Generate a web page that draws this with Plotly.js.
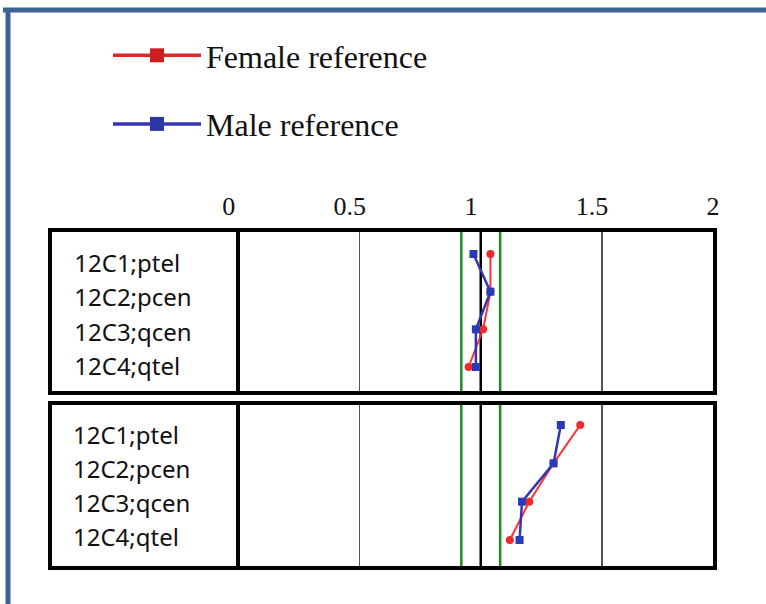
<!DOCTYPE html>
<html>
<head>
<meta charset="utf-8">
<script src="https://cdn.plot.ly/plotly-3.0.1.min.js"></script>
<style>html,body{margin:0;padding:0;background:#fff;}#chart{width:766px;height:604px;}</style>
</head>
<body>
<div id="chart"></div>
<script>
// Data
var rows = ['12C1;ptel', '12C2;pcen', '12C3;qcen', '12C4;qtel'];
var femaleTop = [1.04, 1.04, 1.01, 0.95];
var maleTop = [0.97, 1.04, 0.98, 0.98];
var femaleBottom = [1.41, 1.30, 1.20, 1.12];
var maleBottom = [1.33, 1.30, 1.17, 1.16];
var tickValues = [0, 0.5, 1, 1.5, 2];
var tickLabels = ['0', '0.5', '1', '1.5', '2'];
var referenceValue = 1;
var lowerLimit = 0.92;
var upperLimit = 1.08;

var RED_LINE = '#ff3030', RED_MARK = '#f02a2a';
var BLUE_LINE = '#3535b0', BLUE_MARK = '#2a3ab8';

var traces = [
  {name: 'Female reference', x: [null], y: [null], mode: 'lines+markers', legendgroup: 'f',
   line: {color: '#e02828', width: 3.5}, marker: {symbol: 'square', size: 14, color: '#cc2020'}, hoverinfo: 'skip'},
  {name: 'Male reference', x: [null], y: [null], mode: 'lines+markers', legendgroup: 'm',
   line: {color: '#3535b5', width: 3.5}, marker: {symbol: 'square', size: 14, color: '#2c35a8'}, hoverinfo: 'skip'},
  // top panel
  {x: femaleTop, y: rows, xaxis: 'x', yaxis: 'y', mode: 'lines+markers', showlegend: false,
   line: {color: RED_LINE, width: 2}, marker: {symbol: 'circle', size: 8, color: RED_MARK}},
  {x: maleTop, y: rows, xaxis: 'x', yaxis: 'y', mode: 'lines+markers', showlegend: false,
   line: {color: BLUE_LINE, width: 2.5}, marker: {symbol: 'square', size: 8, color: BLUE_MARK}},
  // bottom panel
  {x: femaleBottom, y: rows, xaxis: 'x2', yaxis: 'y2', mode: 'lines+markers', showlegend: false,
   line: {color: RED_LINE, width: 2}, marker: {symbol: 'circle', size: 8, color: RED_MARK}},
  {x: maleBottom, y: rows, xaxis: 'x2', yaxis: 'y2', mode: 'lines+markers', showlegend: false,
   line: {color: BLUE_LINE, width: 2.5}, marker: {symbol: 'square', size: 8, color: BLUE_MARK}},
  // row labels
  {x: rows.map(function(){return -0.638;}), y: rows, xaxis: 'x3', yaxis: 'y3', mode: 'text', text: rows,
   textposition: 'middle right', showlegend: false, hoverinfo: 'skip',
   textfont: {family: 'Noto Sans, sans-serif', size: 24, color: '#111'}},
  {x: rows.map(function(){return -0.68;}), y: rows, xaxis: 'x2', yaxis: 'y4', mode: 'text', text: rows,
   textposition: 'middle right', showlegend: false, hoverinfo: 'skip',
   textfont: {family: 'Noto Sans, sans-serif', size: 24, color: '#111'}}
];

var W = 766, H = 604;
function px(v) { return v / W; }
function py(v) { return 1 - v / H; }

var xDomain = [px(52), px(713)];
var xRange = [-0.7665, 1.957];

function panelX(anchor) {
  return {domain: xDomain, range: xRange, anchor: anchor, showline: true, mirror: true,
    linewidth: 4, linecolor: '#000', tickvals: [0.5, 1.5], showticklabels: false, ticks: '',
    showgrid: true, gridcolor: '#555', gridwidth: 1.5, zeroline: true, zerolinecolor: '#000',
    zerolinewidth: 4, fixedrange: true};
}
function panelY(domain, range, anchor) {
  return {domain: domain, range: range, anchor: anchor, type: 'category', categoryarray: rows,
    showline: true, mirror: true, linewidth: 4, linecolor: '#000', showticklabels: false,
    ticks: '', showgrid: false, zeroline: false, fixedrange: true};
}

function vline(xv, xref, yref, color, width) {
  return {type: 'line', xref: xref, yref: yref + ' domain', x0: xv, x1: xv, y0: 0, y1: 1,
    line: {color: color, width: width}, layer: 'below'};
}

var shapes = [
  vline(lowerLimit, 'x', 'y', '#1e8c1e', 2.5), vline(upperLimit, 'x', 'y', '#1e8c1e', 2.5),
  vline(referenceValue, 'x', 'y', '#000', 2.5),
  vline(lowerLimit, 'x2', 'y2', '#1e8c1e', 2.5), vline(upperLimit, 'x2', 'y2', '#1e8c1e', 2.5),
  vline(referenceValue, 'x2', 'y2', '#000', 2.5),
  {type: 'line', xref: 'paper', yref: 'paper', x0: px(3), x1: 1.01, y0: py(10), y1: py(10),
   line: {color: '#3f6196', width: 5}},
  {type: 'line', xref: 'paper', yref: 'paper', x0: px(8), x1: px(8), y0: -0.01, y1: py(8),
   line: {color: '#3f6196', width: 5}}
];

var layout = {
  width: W, height: H,
  margin: {l: 0, r: 0, t: 0, b: 0},
  paper_bgcolor: '#fff', plot_bgcolor: 'rgba(0,0,0,0)',
  showlegend: true,
  legend: {x: px(108), y: py(28), xanchor: 'left', yanchor: 'top', traceorder: 'grouped',
    tracegroupgap: 24, bgcolor: 'rgba(0,0,0,0)', itemwidth: 88,
    font: {family: 'Liberation Serif, Times New Roman, serif', size: 32, color: '#111'}},
  xaxis: panelX('y'),
  yaxis: panelY([py(391), py(232)], [3.637, -0.584], 'x'),
  xaxis2: panelX('y2'),
  yaxis2: panelY([py(566), py(405)], [3.678, -0.522], 'x2'),
  xaxis3: {overlaying: 'x', side: 'top', anchor: 'y', range: [-0.73, 2.0],
    tickvals: tickValues, ticktext: tickLabels, showgrid: false, zeroline: false, showline: false,
    ticks: 'outside', ticklen: 6, tickcolor: 'rgba(0,0,0,0)', fixedrange: true,
    tickfont: {family: 'Liberation Serif, Times New Roman, serif', size: 26, color: '#111'}},
  yaxis3: {overlaying: 'y', type: 'category', categoryarray: rows, range: [3.64, -0.99],
    visible: false, fixedrange: true},
  yaxis4: {overlaying: 'y2', type: 'category', categoryarray: rows, range: [3.77, -0.97],
    visible: false, fixedrange: true},
  shapes: shapes
};

Plotly.newPlot('chart', traces, layout, {displayModeBar: false, staticPlot: true});
</script>
</body>
</html>
